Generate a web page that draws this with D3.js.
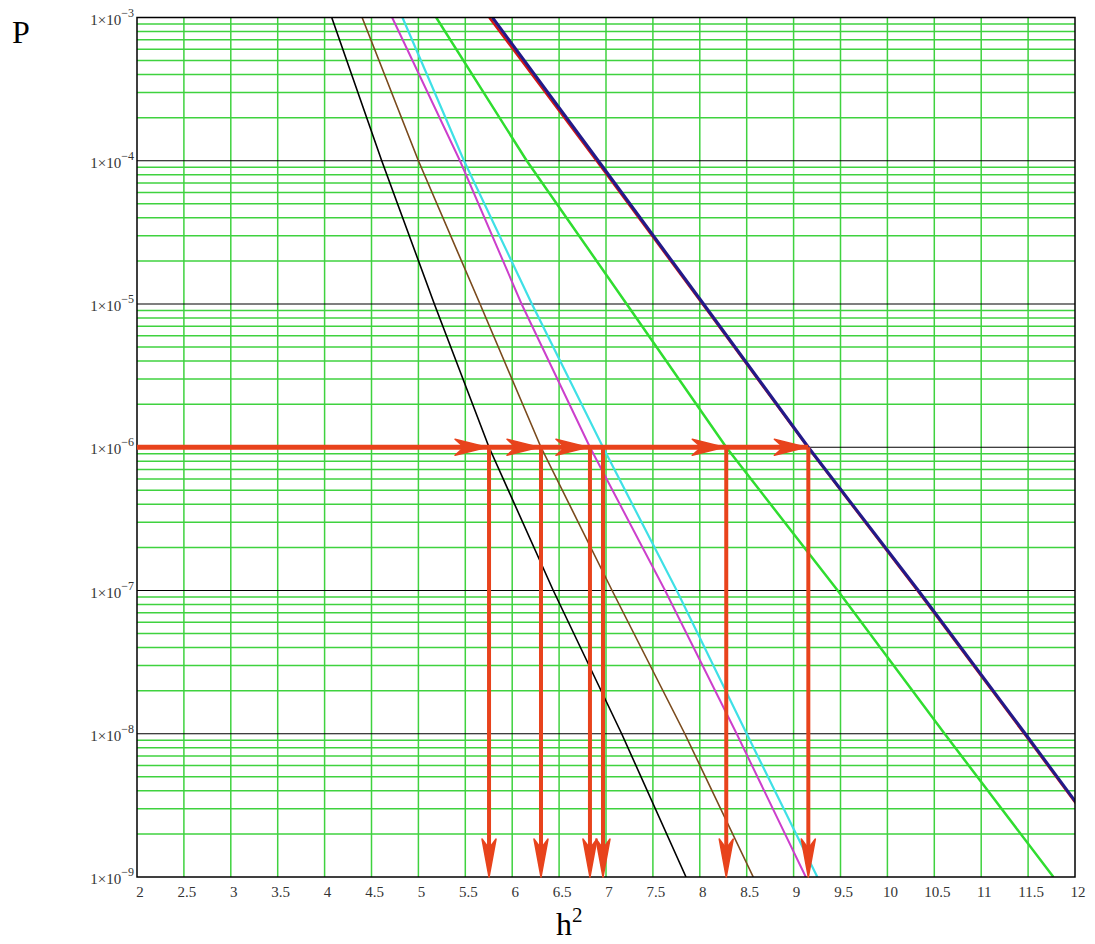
<!DOCTYPE html>
<html><head><meta charset="utf-8">
<script src="https://cdn.jsdelivr.net/npm/d3@7"></script>
<style>html,body{margin:0;padding:0;background:#fff;}svg{display:block;}</style>
</head><body>
<script>
// Data: h^2 positions where each curve crosses each decade of P
const pLevels = [1e-3, 1e-4, 1e-5, 1e-6, 1e-7, 1e-8, 1e-9];
const hBlack   = [4.076, 4.609, 5.17, 5.753, 6.438, 7.167, 7.853];
const hBrown   = [4.40, 5.00, 5.657, 6.307, 7.065, 7.84, 8.57];
const hMagenta = [4.72, 5.443, 6.10, 6.829, 7.63, 8.393, 9.13];
const hCyan    = [4.83, 5.486, 6.21, 6.968, 7.754, 8.50, 9.253];
const hGreen   = [5.19, 6.155, 7.22, 8.282, 9.47, 10.61, 11.77];
const hRed     = [5.756, 6.90, 8.03, 9.152, 10.32, 11.46, 12.59];
const hNavy    = [5.79, 6.918, 8.04, 9.157, 10.33, 11.47, 12.6];
const xTicks = [2, 2.5, 3, 3.5, 4, 4.5, 5, 5.5, 6, 6.5, 7, 7.5, 8, 8.5, 9, 9.5, 10, 10.5, 11, 11.5, 12];
const yTickExp = [-3, -4, -5, -6, -7, -8, -9];
const pTarget = 1e-6;
const hCross = [5.753, 6.307, 6.829, 6.968, 8.282, 9.157];
const hArrowTips = [5.753, 6.307, 6.829, 8.282, 9.157];

const W = 1095, H = 944;
const pL = 137, pR = 1075, pT = 17.5, pB = 877;
const svg = d3.select("body").append("svg").attr("width", W).attr("height", H);

const x = d3.scaleLinear().domain([2, 12]).range([pL, pR]);
const y = d3.scaleLog().domain([1e-9, 1e-3]).range([pB, pT]);

svg.append("defs").append("clipPath").attr("id", "clip")
  .append("rect").attr("x", pL).attr("y", pT).attr("width", pR - pL).attr("height", pB - pT);

const gridColor = "#3fd23f";
const grid = svg.append("g");
const minor = [];
for (let e = -9; e < -3; e++) for (let m = 2; m <= 9; m++) minor.push(m * Math.pow(10, e));
grid.selectAll(".hm").data(minor).join("line")
  .attr("x1", pL).attr("x2", pR)
  .attr("y1", d => y(d)).attr("y2", d => y(d))
  .attr("stroke", gridColor).attr("stroke-width", 1.5);
grid.selectAll(".vg").data(xTicks.slice(1, -1)).join("line")
  .attr("x1", d => x(d)).attr("x2", d => x(d))
  .attr("y1", pT).attr("y2", pB)
  .attr("stroke", gridColor).attr("stroke-width", 1.5);
grid.selectAll(".hd").data(yTickExp.slice(1, -1).map(e => Math.pow(10, e))).join("line")
  .attr("x1", pL).attr("x2", pR)
  .attr("y1", d => y(d)).attr("y2", d => y(d))
  .attr("stroke", "#000").attr("stroke-width", 1.2);

const series = [
  {h: hBlack, c: "#000000", w: 1.6},
  {h: hBrown, c: "#7a4a1c", w: 1.6},
  {h: hMagenta, c: "#cc3fcc", w: 2},
  {h: hCyan, c: "#3fe0e6", w: 2.2},
  {h: hGreen, c: "#30dd30", w: 2.5},
  {h: hRed, c: "#d01818", w: 2.5},
  {h: hNavy, c: "#221a8a", w: 3}
];
const line = d3.line().x(d => x(d[0])).y(d => y(d[1]));
const cg = svg.append("g").attr("clip-path", "url(#clip)");
series.forEach(s => {
  cg.append("path").datum(s.h.map((h, i) => [h, pLevels[i]]))
    .attr("d", line).attr("fill", "none").attr("stroke", s.c)
    .attr("stroke-width", s.w).attr("stroke-linejoin", "round");
});

svg.append("rect").attr("x", pL).attr("y", pT).attr("width", pR - pL).attr("height", pB - pT)
  .attr("fill", "none").attr("stroke", "#000").attr("stroke-width", 1.5);

const arrowColor = "#e8431c";
const ag = svg.append("g");
const yT = y(pTarget);
ag.append("line").attr("x1", pL).attr("x2", x(d3.max(hCross))).attr("y1", yT).attr("y2", yT)
  .attr("stroke", arrowColor).attr("stroke-width", 5);
ag.selectAll(".vl").data(hCross).join("line")
  .attr("x1", d => x(d)).attr("x2", d => x(d)).attr("y1", yT).attr("y2", pB - 10)
  .attr("stroke", arrowColor).attr("stroke-width", 4);
ag.selectAll(".ha").data(hArrowTips).join("path")
  .attr("d", d => {
    const tx = x(d) - 2, L = 32, Wd = 8;
    return `M${tx},${yT} L${tx - L},${yT - Wd} L${tx - L * 0.72},${yT} L${tx - L},${yT + Wd} Z`;
  })
  .attr("fill", arrowColor).attr("stroke", arrowColor).attr("stroke-width", 1.5).attr("stroke-linejoin", "round");
ag.selectAll(".va").data(hCross).join("path")
  .attr("d", d => {
    const tx = x(d), ty = pB, L = 38, Wd = 7;
    return `M${tx},${ty} L${tx - Wd},${ty - L} L${tx},${ty - L * 0.75} L${tx + Wd},${ty - L} Z`;
  })
  .attr("fill", arrowColor).attr("stroke", arrowColor).attr("stroke-width", 1.5).attr("stroke-linejoin", "round");

const font = "'Liberation Serif', 'Times New Roman', serif";
svg.append("g").selectAll("text").data(xTicks).join("text")
  .attr("x", d => x(d) + 3).attr("y", 897)
  .attr("text-anchor", "middle").attr("font-family", font).attr("font-size", 15).attr("fill", "#333")
  .text(d => d);

const yl = svg.append("g").selectAll("text").data(yTickExp).join("text")
  .attr("x", 134).attr("y", e => y(Math.pow(10, e)) + 7)
  .attr("text-anchor", "end").attr("font-family", font).attr("font-size", 15).attr("fill", "#333");
yl.append("tspan").text("1×10");
yl.append("tspan").attr("dy", -8).attr("font-size", 12).text(e => "−" + Math.abs(e));

svg.append("text").attr("x", 12).attr("y", 43).attr("font-family", font).attr("font-size", 32).attr("fill", "#000").text("P");
const ht = svg.append("text").attr("x", 556).attr("y", 935).attr("font-family", font).attr("font-size", 32).attr("fill", "#000");
ht.append("tspan").text("h");
ht.append("tspan").attr("dy", -13).attr("font-size", 21).text("2");
</script>
</body></html>
